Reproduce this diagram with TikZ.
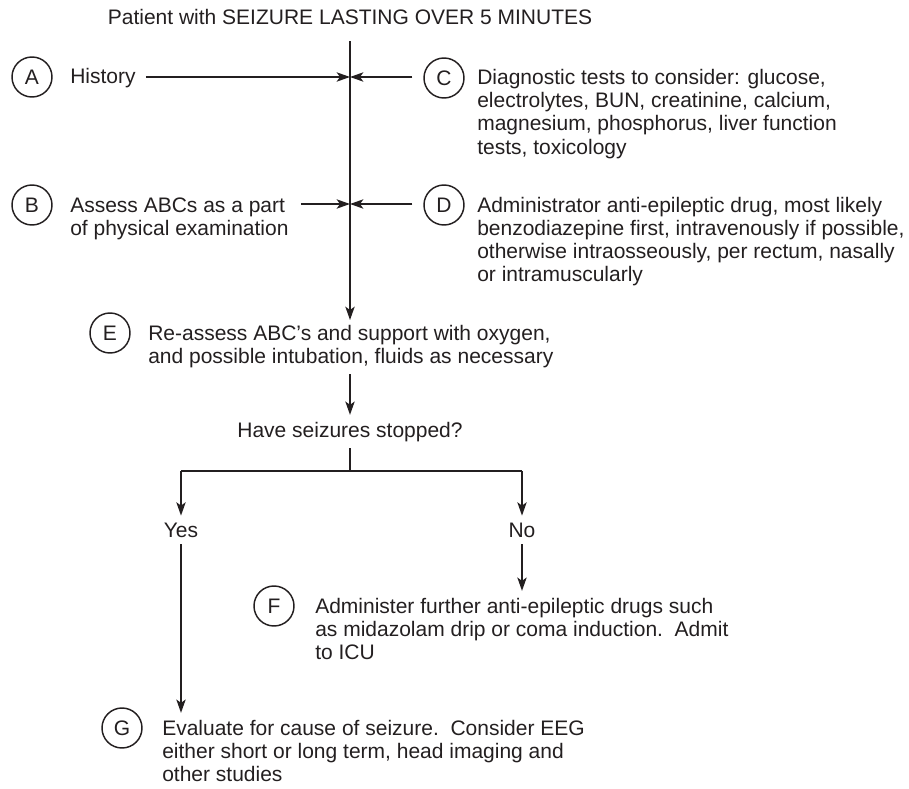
\documentclass[tikz,border=0pt]{standalone}
\usepackage{fontspec}
\setmainfont{Liberation Sans}
\usetikzlibrary{arrows.meta}
\definecolor{ink}{HTML}{231F20}
\begin{document}
\begin{tikzpicture}[x=0.75pt,y=-0.75pt,
  % multi-line text nodes: the base anchor sits on the last line
  txt/.style={inner xsep=0pt, inner ysep=5pt, anchor=base west, align=left,
              font=\fontsize{15.75}{17.25}\selectfont, text=ink},
  letter/.style={circle, draw=ink, line width=1.1pt, minimum size=30pt, inner sep=0pt,
              font=\fontsize{15.75}{17.25}\selectfont, text=ink},
  ln/.style={draw=ink, line width=1.2pt},
  arr/.style={ln, -{Stealth[length=10pt,width=7pt,inset=2.5pt]}}]
\useasboundingbox (0,0) rectangle (909,788);

% title and junctions on the main line
\node[txt, anchor=base] (title) at (350,25) {Patient with SEIZURE LASTING OVER 5 MINUTES};
\coordinate (jA) at (350,77);
\coordinate (jB) at (350,204);
\coordinate (jE) at (350,320);

% A and C
\node[letter] (cA) at (32,77) {A};
\node[txt] (tA) at (70,84) {History};
\node[letter] (cC) at (444,78) {C};
\node[txt] (tC) at (477,154) {Diagnostic tests to consider: glucose,\\
  electrolytes, BUN, creatinine, calcium,\\
  magnesium, phosphorus, liver function\\
  tests, toxicology};

% B and D
\node[letter] (cB) at (32,205) {B};
\node[txt] (tB) at (70,235) {Assess ABCs as a part\\of physical examination};
\node[letter] (cD) at (444,205) {D};
\node[txt] (tD) at (477,281) {Administrator anti-epileptic drug, most likely\\
  benzodiazepine first, intravenously if possible,\\
  otherwise intraosseously, per rectum, nasally\\
  or intramuscularly};

% E and the question
\node[letter] (cE) at (110,333) {E};
\node[txt] (tE) at (148,363) {Re-assess ABC's and support with oxygen,\\
  and possible intubation, fluids as necessary};
\node[txt, anchor=base] (have) at (350,437) {Have seizures stopped?};

% branches
\coordinate (split) at (350,471);
\coordinate (yesTop) at (181,471);
\coordinate (noTop) at (522,471);
\node[txt, anchor=base] (yes) at (181,537) {Yes};
\node[txt, anchor=base] (no) at (522,537) {No};

% F and G
\node[letter] (cF) at (274,606) {F};
\node[txt] (tF) at (315,659) {Administer further anti-epileptic drugs such\\
  as midazolam drip or coma induction.\ \ Admit\\
  to ICU};
\node[letter] (cG) at (122,728) {G};
\node[txt] (tG) at (162,781) {Evaluate for cause of seizure.\ \ Consider EEG\\
  either short or long term, head imaging and\\
  other studies};

% connectors
\draw[arr, shorten <=7pt] (title.south) -- (jE);
\draw[arr, shorten <=7.5pt] (tA.east |- jA) -- (jA);
\draw[arr, shorten <=8.25pt] (cC.west |- jA) -- (jA);
\draw[arr, shorten <=9pt] (tB.east |- jB) -- (jB);
\draw[arr, shorten <=8.25pt] (cD.west |- jB) -- (jB);
\draw[arr] (tE.south -| have) -- (have.north);
\draw[ln] (have.south) -- (split);
\draw[ln] (yesTop) -- (noTop);
\draw[arr] (yesTop) -- (yes.north);
\draw[arr] (noTop) -- (no.north);
\draw[arr] (no.south) -- (tF.north -| no);
\draw[arr] (yes.south) -- (tG.north -| yes);
\end{tikzpicture}
\end{document}
